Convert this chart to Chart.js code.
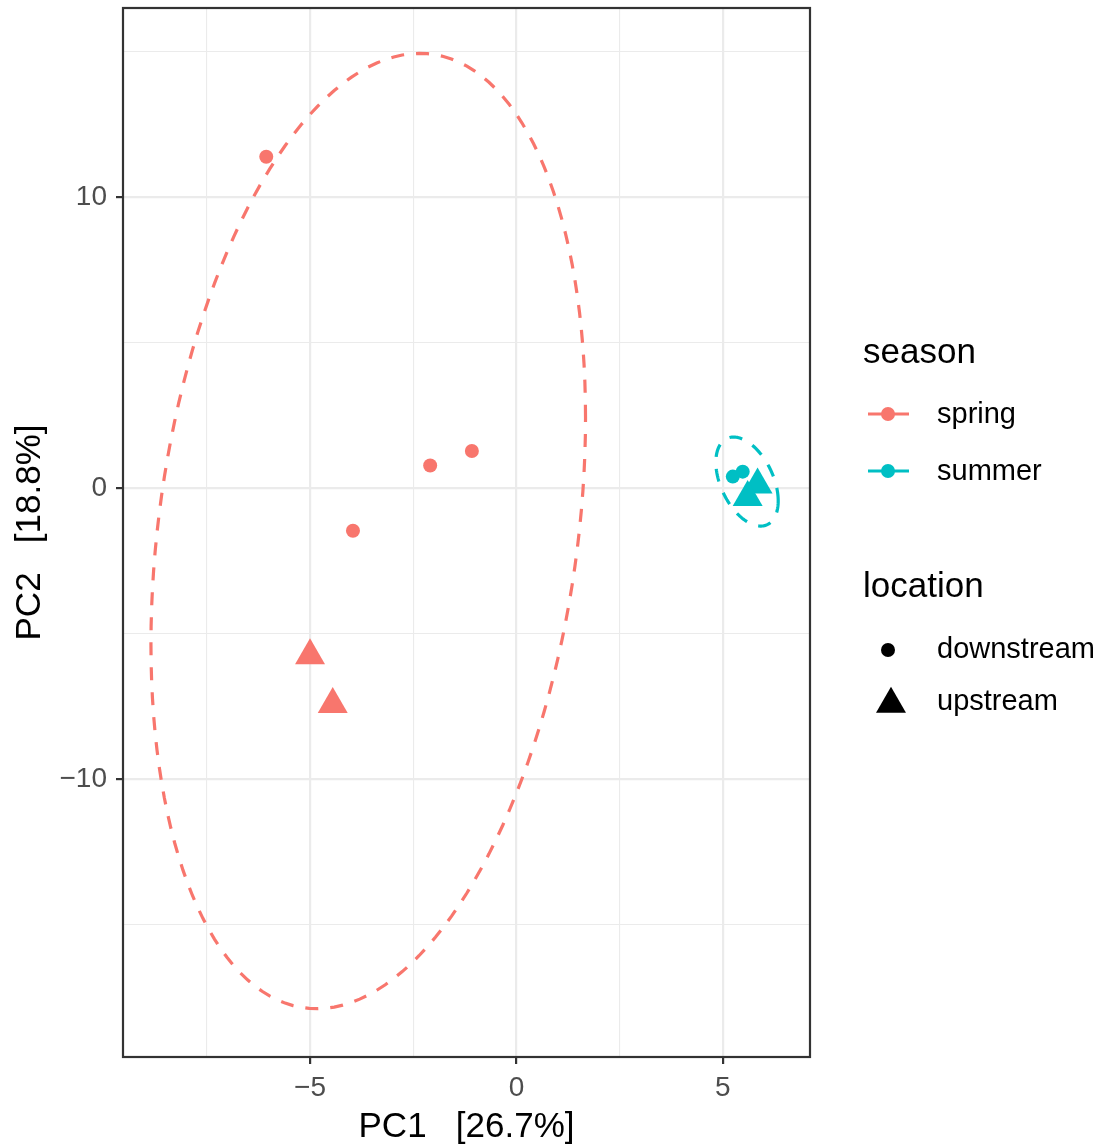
<!DOCTYPE html>
<html>
<head>
<meta charset="utf-8">
<script src="https://cdn.jsdelivr.net/npm/chart.js@4.4.1/dist/chart.umd.min.js"></script>
<style>
  html, body { margin: 0; padding: 0; background: #fff; }
</style>
</head>
<body>
<canvas id="pca" width="1099" height="1145"></canvas>
<script>
const seasons = ["spring", "summer"];
const seasonColors = ["#F8766D", "#00BFC4"];
const locations = ["downstream", "upstream"];

// PC scores
const springDownX = [-6.06, -2.09, -1.08, -3.96];
const springDownY = [11.38, 0.77, 1.27, -1.47];
const springUpX = [-5.00, -4.45];
const springUpY = [-5.76, -7.43];
const summerDownX = [5.24, 5.48];
const summerDownY = [0.39, 0.56];
const summerUpX = [5.84, 5.60];
const summerUpY = [0.11, -0.32];

// ellipses: centre [x, y], spread [sxx, syy, sxy]
const springCentre = [-3.59, -1.48];
const springSpread = [27.7, 269.3, 20.5];
const summerCentre = [5.585, 0.22];
const summerSpread = [0.57, 2.34, -0.5];

const xTicks = [-7.5, -5, -2.5, 0, 2.5, 5];
const yTicks = [-15, -10, -5, 0, 5, 10, 15];
const xMajor = [-5, 0, 5];
const yMajor = [-10, 0, 10];

const FONT = '"Liberation Sans", Arial, Helvetica, sans-serif';

function pair(xs, ys) {
  return xs.map((x, i) => ({ x: x, y: ys[i] }));
}

function ellipse(c, s) {
  const l11 = Math.sqrt(s[0]);
  const l21 = s[2] / l11;
  const l22 = Math.sqrt(s[1] - l21 * l21);
  const pts = [];
  for (let i = 0; i <= 160; i++) {
    const t = i / 160 * 2 * Math.PI;
    pts.push({ x: c[0] + l11 * Math.cos(t), y: c[1] + l21 * Math.cos(t) + l22 * Math.sin(t) });
  }
  return pts;
}

function label(v) {
  return String(v).replace("-", "\u2212");
}

function ring(data, color) {
  return {
    data: data, showLine: true, borderColor: color, borderWidth: 3.2,
    borderDash: [13, 12], pointRadius: 0, fill: false, tension: 0
  };
}

function marks(data, color, style, r) {
  return {
    data: data, showLine: false, pointStyle: style, pointRadius: r,
    pointBackgroundColor: color, pointBorderWidth: 0, borderColor: color
  };
}

const decor = {
  id: "decor",
  afterDraw(chart) {
    const ctx = chart.ctx;
    const a = chart.chartArea;
    ctx.save();
    ctx.strokeStyle = "#333333";
    ctx.lineWidth = 2.2;
    ctx.strokeRect(a.left, a.top, a.right - a.left, a.bottom - a.top);

    // axis titles
    ctx.fillStyle = "#000";
    ctx.font = "35px " + FONT;
    ctx.textAlign = "center";
    ctx.textBaseline = "alphabetic";
    ctx.fillText("PC1   [26.7%]", (a.left + a.right) / 2, 1137);
    ctx.save();
    ctx.translate(40, (a.top + a.bottom) / 2);
    ctx.rotate(-Math.PI / 2);
    ctx.fillText("PC2   [18.8%]", 0, 0);
    ctx.restore();

    // legend
    ctx.textAlign = "left";
    ctx.fillText("season", 863, 363);
    const rowY = [414, 471];
    seasons.forEach((s, i) => {
      const y = rowY[i];
      ctx.strokeStyle = seasonColors[i];
      ctx.lineWidth = 3.2;
      ctx.beginPath();
      ctx.moveTo(868, y);
      ctx.lineTo(909, y);
      ctx.stroke();
      ctx.fillStyle = seasonColors[i];
      ctx.beginPath();
      ctx.arc(888, y, 7, 0, 2 * Math.PI);
      ctx.fill();
      ctx.fillStyle = "#000";
      ctx.font = "29px " + FONT;
      ctx.fillText(s, 937, y + 9);
    });

    ctx.font = "35px " + FONT;
    ctx.fillText("location", 863, 597);
    ctx.font = "29px " + FONT;
    ctx.beginPath();
    ctx.arc(888, 650, 7, 0, 2 * Math.PI);
    ctx.fill();
    ctx.fillText(locations[0], 937, 658);
    const r = 17.3;
    ctx.beginPath();
    ctx.moveTo(891, 704 - r);
    ctx.lineTo(891 + r * 0.866, 704 + r / 2);
    ctx.lineTo(891 - r * 0.866, 704 + r / 2);
    ctx.closePath();
    ctx.fill();
    ctx.fillText(locations[1], 937, 710);
    ctx.restore();
  }
};

function axis(min, max, ticks, major, pad, lh, fit) {
  return {
    type: "linear", min: min, max: max,
    afterBuildTicks: s => { s.ticks = ticks.map(v => ({ value: v })); },
    afterFit: s => {
      fit(s);
      s.paddingTop = 0; s.paddingBottom = 0;
      s.paddingLeft = 0; s.paddingRight = 0;
    },
    border: { display: false },
    grid: {
      color: "#EBEBEB",
      lineWidth: c => (c.tick && major.includes(c.tick.value)) ? 2.2 : 1.1,
      tickColor: c => (c.tick && major.includes(c.tick.value)) ? "#333333" : "rgba(0,0,0,0)",
      tickLength: 7,
      tickWidth: 2.2
    },
    ticks: {
      color: "#4D4D4D",
      font: { size: 28, family: FONT, lineHeight: lh },
      autoSkip: false, maxRotation: 0,
      padding: pad,
      callback: v => major.includes(v) ? label(v) : ""
    }
  };
}

new Chart(document.getElementById("pca"), {
  type: "scatter",
  data: {
    datasets: [
      ring(ellipse(springCentre, springSpread), seasonColors[0]),
      ring(ellipse(summerCentre, summerSpread), seasonColors[1]),
      marks(pair(summerUpX, summerUpY), seasonColors[1], "triangle", 17.3),
      marks(pair(summerDownX, summerDownY), seasonColors[1], "circle", 7),
      marks(pair(springUpX, springUpY), seasonColors[0], "triangle", 17.3),
      marks(pair(springDownX, springDownY), seasonColors[0], "circle", 7)
    ]
  },
  options: {
    responsive: false,
    animation: false,
    layout: { autoPadding: false, padding: { top: 8, right: 289, left: 0, bottom: 0 } },
    plugins: { legend: { display: false }, tooltip: { enabled: false } },
    scales: {
      x: axis(-9.53, 7.11, xTicks, xMajor, 7, 1.2, s => { s.height = 88; }),
      y: axis(-19.55, 16.49, yTicks, yMajor, 9, 1.2, s => { s.width = 123; })
    }
  },
  plugins: [decor]
});
</script>
</body>
</html>
